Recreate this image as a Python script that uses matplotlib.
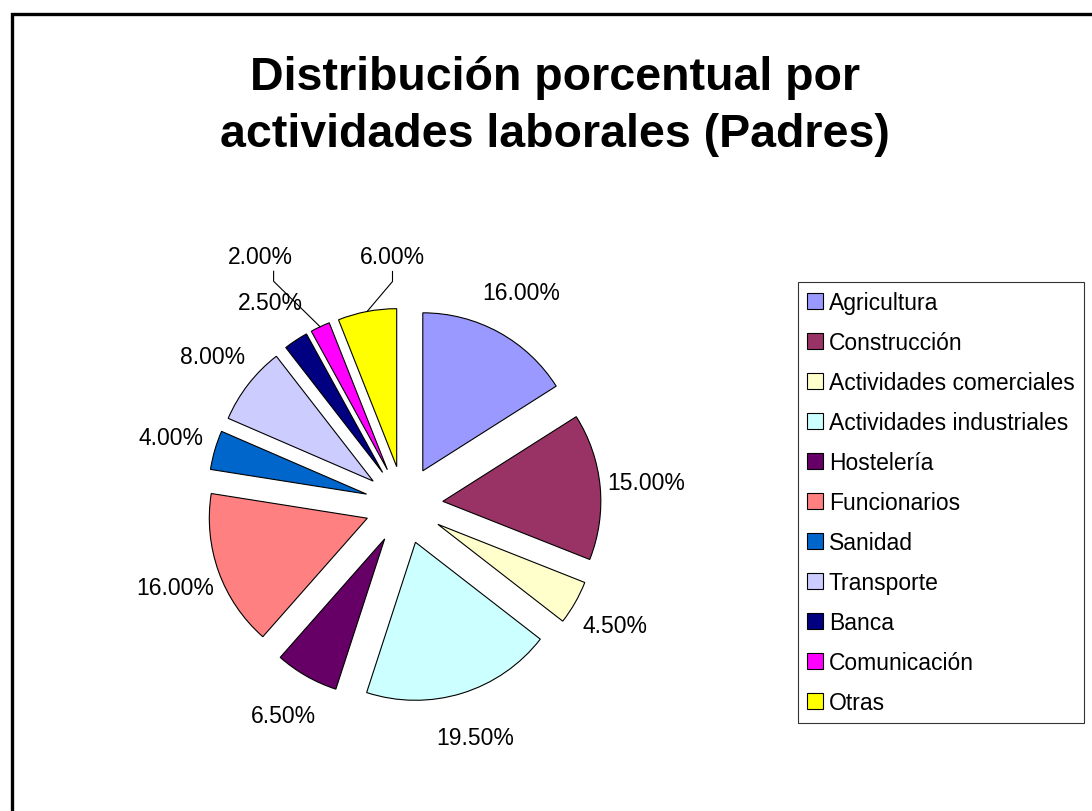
import numpy as np
import matplotlib
matplotlib.use("Agg")
import matplotlib.pyplot as plt
from matplotlib.patches import Rectangle

plt.rcParams['font.family'] = ['Liberation Sans', 'DejaVu Sans']

# chart data
categories = ['Agricultura', 'Construcción', 'Actividades comerciales',
              'Actividades industriales', 'Hostelería', 'Funcionarios',
              'Sanidad', 'Transporte', 'Banca', 'Comunicación', 'Otras']
shares = [16.0, 15.0, 4.5, 19.5, 6.5, 16.0, 4.0, 8.0, 2.5, 2.0, 6.0]
colors = ['#9999FF', '#993366', '#FFFFCC', '#CCFFFF', '#660066', '#FF8080',
          '#0066CC', '#CCCCFF', '#000080', '#FF00FF', '#FFFF00']

W, H = 1092, 812
fig = plt.figure(figsize=(W / 100, H / 100), dpi=100)
fig.patch.set_facecolor('white')

# outer frame of the chart area (runs off the right/bottom edges)
fig.add_artist(Rectangle((11.5 / W, -0.1), 1.2, 1 - 14.5 / H + 0.1,
                         transform=fig.transFigure, fill=False,
                         edgecolor='black', linewidth=2.4))

ax = fig.add_axes([0, 0, 1, 1])
radius = 158
wedges, _, pcts = ax.pie(shares, colors=colors, startangle=90, counterclock=False,
                         center=(404, H - 506), radius=radius,
                         explode=[39] * len(shares),
                         autopct='%.2f%%', pctdistance=1.29,
                         wedgeprops=dict(edgecolor='black', linewidth=0.8),
                         textprops=dict(fontsize=16.5, color='black'))
ax.set_xlim(0, W)
ax.set_ylim(0, H)
ax.set_aspect('equal')
ax.axis('off')

# small slices on top get their labels pulled away, with leader lines
moved = {9: (-40, 29), 10: (34, 10)}
for i, (dx, dy) in moved.items():
    x, y = pcts[i].get_position()
    pcts[i].set_position((x + dx, y + dy))
    w = wedges[i]
    th = np.deg2rad((w.theta1 + w.theta2) / 2)
    ex = w.center[0] + w.r * np.cos(th)
    ey = w.center[1] + w.r * np.sin(th)
    lx = x + dx + (13 if i == 9 else 0)
    ly = y + dy - 15
    ax.plot([lx, lx, ex], [ly, ly - 10, ey], color='black', linewidth=0.8)

fig.text(555 / W, 1 - 56 / H,
         'Distribución porcentual por\nactividades laborales (Padres)',
         ha='center', va='top', fontsize=33.5, fontweight='bold', linespacing=1.38)

leg = ax.legend(wedges, categories, loc='upper left',
                bbox_to_anchor=(798 / W, 1 - 283 / H), fontsize=16.5,
                frameon=True, fancybox=False, shadow=False,
                handlelength=0.7, handleheight=0.7, handletextpad=0.25,
                labelspacing=0.74, borderpad=0.4, borderaxespad=0)
leg.get_frame().set_edgecolor('black')
leg.get_frame().set_linewidth(0.8)

fig.savefig('out.png', dpi=100)
